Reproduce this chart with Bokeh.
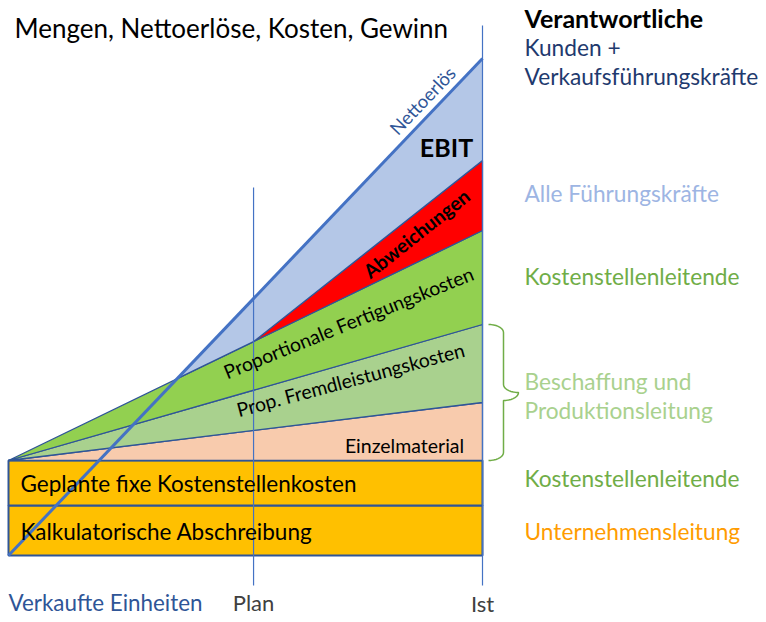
import math
import numpy as np
from bokeh.plotting import figure
from bokeh.models import Range1d, Label
from bokeh.embed import file_html
from bokeh.resources import INLINE

# ---------------- data ----------------
fixed_labels = ["Kalkulatorische Abschreibung", "Geplante fixe Kostenstellenkosten"]
fixed_values = [50, 45]                       # fixed cost blocks (bottom -> top)
var_labels = ["Einzelmaterial", "Prop. Fremdleistungskosten", "Proportionale Fertigungskosten"]
var_values_ist = [58, 78, 94]                 # variable costs at actual volume
abweichung_ist = 70                           # deviations at actual volume
revenue_ist = 497                             # net revenue at actual volume
units_plan = 51.7                             # planned units sold
units_ist = 100.0                             # actual units sold
x_tick_labels = ["Plan", "Ist"]
resp_labels = ["Kunden +\nVerkaufsführungskräfte", "Alle Führungskräfte", "Kostenstellenleitende",
               "Beschaffung und\nProduktionsleitung", "Kostenstellenleitende", "Unternehmensleitung"]

# ---------------- colours ----------------
C_EDGE = "#2F5597"
C_LINE = "#4472C4"
C_FIX = "#FFC000"
C_VAR = ["#F8CBAD", "#A9D18E", "#92D050"]
C_ABW = "#FF0000"
C_EBIT = "#B4C7E7"
FONT = "Lato"

W, H = 766, 622
PX_PER_X = 4.74           # pixels per unit on x
X0 = 8                    # pixel of x = 0
Y0 = 555                  # pixel of y = 0
x_min, x_max = -X0 / PX_PER_X, (W - X0) / PX_PER_X
y_min, y_max = Y0 - H, Y0

p = figure(width=W, height=H, x_range=Range1d(x_min, x_max), y_range=Range1d(y_min, y_max),
           output_backend="svg", toolbar_location=None, min_border=0,
           outline_line_color=None, background_fill_color="white")
p.axis.visible = False
p.grid.visible = False

# helpers: picture pixel coords -> data coords (for annotation placement)
def ix(px):
    return (px - X0) / PX_PER_X

def iy(py):
    return Y0 - py

fix_total = sum(fixed_values)
cum_var = np.cumsum([0] + var_values_ist)
top_var_ist = fix_total + cum_var[-1]

def line_at(x, y0, y1):
    return y0 + (y1 - y0) * x / units_ist

# fixed blocks
bottom = 0
for lab_, v in zip(fixed_labels, fixed_values):
    p.quad(left=0, right=units_ist, bottom=bottom, top=bottom + v,
           fill_color=C_FIX, line_color=C_EDGE, line_width=2)
    bottom += v

# variable cost wedges
for i, lab_ in enumerate(var_labels):
    xs = [0, units_ist, units_ist]
    ys = [fix_total, fix_total + cum_var[i], fix_total + cum_var[i + 1]]
    p.patch(xs, ys, fill_color=C_VAR[i], line_color=C_EDGE, line_width=1.3)

# deviations (from plan point)
y_plan_cost = line_at(units_plan, fix_total, top_var_ist)
p.patch([units_plan, units_ist, units_ist],
        [y_plan_cost, top_var_ist, top_var_ist + abweichung_ist],
        fill_color=C_ABW, line_color=C_EDGE, line_width=1.3)

# EBIT area: between revenue line and cost top
slope_rev = revenue_ist / units_ist
slope_cost = (top_var_ist - fix_total) / units_ist
x_cross = fix_total / (slope_rev - slope_cost)
y_cross = slope_rev * x_cross
p.patch([x_cross, units_plan, units_ist, units_ist],
        [y_cross, y_plan_cost, top_var_ist + abweichung_ist, revenue_ist],
        fill_color=C_EBIT, line_color=None)
p.line([x_cross, units_plan], [y_cross, y_plan_cost], line_color=C_EDGE, line_width=1.3)
p.line([units_plan, units_ist], [y_plan_cost, top_var_ist + abweichung_ist], line_color=C_EDGE, line_width=1.3)

# Plan / Ist vertical lines
p.segment(x0=[units_plan, units_ist], y0=[-30, -30], x1=[units_plan, units_ist], y1=[368, 530],
          line_color=C_LINE, line_width=1.2)

# revenue line
p.line([0, units_ist], [0, revenue_ist], line_color=C_LINE, line_width=3)

# brace around material + external services
def brace(x0_px, ytop, ybot, w=30, r=8, n=10):
    half = w / 2
    ymid = (ytop + ybot) / 2
    t = np.linspace(0, math.pi / 2, n)
    xs, ys = [], []
    xs += list(x0_px + half * np.sin(t)); ys += list(ytop - r * (1 - np.cos(t)))
    xs += [x0_px + half]; ys += [ymid + r]
    xs += list(x0_px + half + half * (1 - np.cos(t))); ys += list(ymid + r * (1 - np.sin(t)))
    xs += list(x0_px + half + half * np.cos(t)); ys += list(ymid - r * np.sin(t))
    xs += [x0_px + half]; ys += [ybot + r]
    xs += list(x0_px + half * np.cos(t)); ys += list(ybot + r * (1 - np.sin(t)))
    return [x / PX_PER_X for x in xs], ys

bx, by = brace(units_ist * PX_PER_X + 6, fix_total + cum_var[2], fix_total)
p.line(bx, by, line_color="#70AD47", line_width=1.5)

# ---------------- texts ----------------
def lab(x, y, text, size, color="black", align="left", angle=0.0, bold=False):
    p.add_layout(Label(x=x, y=y, text=text, text_font=FONT, text_font_size=f"{size}px",
                       text_color=color, text_align=align, text_baseline="middle",
                       angle=math.radians(angle), text_font_style="bold" if bold else "normal"))

RS = 22.7
lab(ix(14), iy(27), "Mengen, Nettoerlöse, Kosten, Gewinn", 26)
lab(ix(524), iy(17), "Verantwortliche", 25, bold=True)
lab(ix(524), iy(47), resp_labels[0].split("\n")[0], RS, "#1F3A6E")
lab(ix(524), iy(76), resp_labels[0].split("\n")[1], RS, "#1F3A6E")
lab(ix(524), iy(193), resp_labels[1], RS, "#9DB5E3")
lab(ix(524), iy(276), resp_labels[2], RS, "#70AD47")
lab(ix(524), iy(381), resp_labels[3].split("\n")[0], RS, "#A9D18E")
lab(ix(524), iy(410), resp_labels[3].split("\n")[1], RS, "#A9D18E")
lab(ix(524), iy(478), resp_labels[4], RS, "#70AD47")
lab(ix(524), iy(531), resp_labels[5], RS, "#FF9C00")

lab(ix(8), iy(602), "Verkaufte Einheiten", 22.4, C_EDGE)
lab(units_plan, iy(602), x_tick_labels[0], 22, "#404040", align="center")
lab(units_ist, iy(603), x_tick_labels[1], 22, "#404040", align="center")

lab(ix(20), iy(483), fixed_labels[1], 22.5)
lab(ix(20), iy(531), fixed_labels[0], 22.5)
lab(ix(404), iy(445), var_labels[0], 19.5, align="center")
lab(ix(350), iy(379), var_labels[1], 19.4, align="center", angle=15)
lab(ix(348), iy(322), var_labels[2], 19.4, align="center", angle=22)
lab(ix(416), iy(233), "Abweichungen", 19.5, align="center", angle=38.5, bold=True)
lab(ix(446), iy(146), "EBIT", 25, align="center", bold=True)
lab(ix(422), iy(100), "Nettoerlös", 18.4, C_EDGE, align="center", angle=46.3)

open("out.html", "w").write(file_html(p, INLINE))
